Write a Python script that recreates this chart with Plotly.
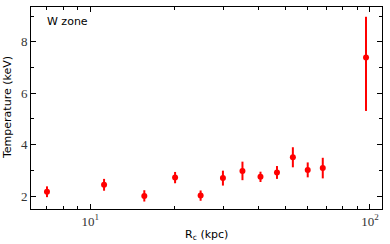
import plotly.graph_objects as go

r_kpc = [7.0, 11.2, 15.6, 20.1, 24.8, 29.8, 35.0, 40.6, 46.5, 53.0, 59.9, 67.8, 96.8]
temp_kev = [2.17, 2.44, 2.01, 2.72, 2.02, 2.70, 2.98, 2.75, 2.92, 3.51, 3.02, 3.09, 7.39]
err_up = [0.21, 0.23, 0.22, 0.22, 0.20, 0.29, 0.36, 0.20, 0.25, 0.39, 0.29, 0.40, 1.58]
err_dn = [0.21, 0.23, 0.22, 0.22, 0.20, 0.29, 0.36, 0.20, 0.25, 0.39, 0.29, 0.40, 2.08]
x_tickvals = [10, 100]
x_ticktext = ["10<sup>1</sup>", "10<sup>2</sup>"]
y_tickvals = [2, 4, 6, 8]

fig = go.Figure()
fig.add_trace(go.Scatter(
    x=r_kpc, y=temp_kev, mode="markers",
    marker=dict(color="#ff0000", size=6),
    error_y=dict(type="data", symmetric=False, array=err_up, arrayminus=err_dn,
                 color="#ff0000", thickness=2, width=0),
    showlegend=False, hoverinfo="skip",
))

tickfont = dict(family="Liberation Serif, DejaVu Serif, serif", size=13, color="#333")
axis_common = dict(showline=True, linecolor="black", linewidth=1, mirror="ticks",
                   ticks="inside", ticklen=5, tickcolor="black", showgrid=False,
                   zeroline=False, tickfont=tickfont, automargin=False)

fig.update_xaxes(type="log", range=[0.788, 2.043], tickvals=x_tickvals, ticktext=x_ticktext,
                 minor=dict(ticks="inside", ticklen=3, tickcolor="black", dtick="D1", showgrid=False),
                 **axis_common)
fig.update_yaxes(range=[1.5, 9.35], tickvals=y_tickvals,
                 minor=dict(ticks="inside", ticklen=3, tickcolor="black", dtick=1, showgrid=False),
                 **axis_common)

title_font = dict(family="DejaVu Sans, sans-serif", size=11, color="black")
fig.add_annotation(x=0.5, y=0, xref="paper", yref="paper", xanchor="center", yanchor="middle",
                   yshift=-26, showarrow=False, text="R<sub>c</sub> (kpc)", font=title_font)
fig.add_annotation(x=0, y=0.5, xref="paper", yref="paper", xanchor="center", yanchor="middle",
                   xshift=-24, showarrow=False, text="Temperature (keV)", textangle=-90, font=title_font)

fig.add_annotation(x=0, y=1, xref="paper", yref="paper", xanchor="left", yanchor="top",
                   xshift=14, yshift=-6, showarrow=False, text="W zone",
                   font=dict(family="DejaVu Sans, sans-serif", size=11, color="black"))

fig.update_layout(width=390, height=244, margin=dict(l=31, r=8, t=7, b=35),
                  plot_bgcolor="white", paper_bgcolor="white", hovermode=False)
fig.write_html("out.html", config={"displayModeBar": False, "staticPlot": True},
               post_script="document.body.style.margin='0px';document.body.style.overflow='hidden';")
